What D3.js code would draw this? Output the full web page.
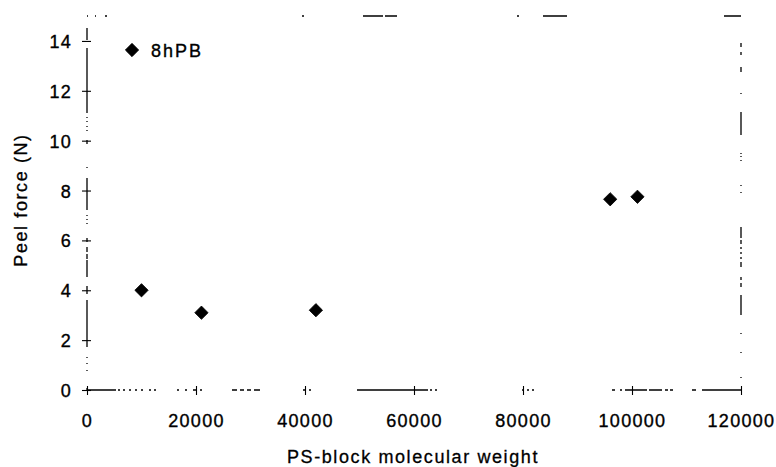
<!DOCTYPE html>
<html>
<head>
<meta charset="utf-8">
<script src="https://cdn.jsdelivr.net/npm/d3@7"></script>
<style>
  body { margin: 0; background: #fff; }
  svg { display: block; font-family: "Liberation Sans", Arial, sans-serif; }
  .tick-label { font-size: 18px; letter-spacing: 1.3px; fill: #000; stroke: #000; stroke-width: 0.35px; }
  .axis-title { font-size: 18px; letter-spacing: 1.6px; fill: #000; stroke: #000; stroke-width: 0.3px; }
</style>
</head>
<body>
<svg id="chart"></svg>
<script>
// PS-block molecular weight vs peel force (8hPB)
const molWeight = [10000, 21000, 42000, 96000, 101000];
const peelForce = [4.0, 3.1, 3.2, 7.65, 7.75];
const seriesName = "8hPB";
const xTicks = [0, 20000, 40000, 60000, 80000, 100000, 120000];
const yTicks = [0, 2, 4, 6, 8, 10, 12, 14];

const width = 776, height = 467;
const margin = { top: 16, right: 35, bottom: 77, left: 87 };
const innerW = width - margin.left - margin.right;
const innerH = height - margin.top - margin.bottom;

// broken frame look of the scanned figure (pixel runs along each side)
const frameRuns = {
  top: [[0,1],[8,9],[18,20],[215,217],[276,296],[298,310],[430,432],[456,480],[637,654]],
  right: [[27,31],[36,39],[51,56],[77,78],[96,119],[137,138],[140,141],[144,145],[169,170],[176,177],
          [211,222],[224,228],[231,233],[236,238],[241,243],[246,251],[261,264],[267,271],[279,299],
          [317,318],[336,337],[361,362]],
  left: [[12,24],[32,97],[101,102],[105,106],[110,111],[114,115],[124,128],[151,152],[162,194],
         [199,200],[203,204],[207,208],[222,226],[231,236],[238,243],[244,261],[270,278],[284,331],
         [341,342],[347,348],[354,355],[372,374]],
  bottom: [[0,29],[31,33],[36,38],[42,44],[48,50],[54,56],[62,64],[67,69],[90,92],[98,100],[106,110],
           [113,115],[145,150],[153,157],[160,164],[167,173],[216,218],[222,224],[270,341],[343,345],
           [348,350],[435,437],[440,442],[445,447],[525,528],[533,535],[538,560],[562,575],[578,581],
           [583,586],[605,609],[615,654]]
};

function runsToDash(runs) {
  const out = [0, runs[0][0]];
  runs.forEach((r, i) => {
    const next = i < runs.length - 1 ? runs[i + 1][0] : r[1] + 2000;
    out.push(r[1] - r[0], next - r[1]);
  });
  return out.join(",");
}

const svg = d3.select("#chart")
  .attr("width", width)
  .attr("height", height);

svg.append("rect").attr("width", width).attr("height", height).attr("fill", "#fff");

const g = svg.append("g")
  .attr("transform", `translate(${margin.left},${margin.top})`);

const x = d3.scaleLinear().domain([0, 120000]).range([0, innerW]);
const y = d3.scaleLinear().domain([0, 15]).range([innerH, 0]);

// frame
const sides = [
  { key: "top", x1: 0, y1: 0, x2: innerW, y2: 0 },
  { key: "right", x1: innerW, y1: 0, x2: innerW, y2: innerH },
  { key: "left", x1: 0, y1: 0, x2: 0, y2: innerH },
  { key: "bottom", x1: 0, y1: innerH, x2: innerW, y2: innerH }
];
g.selectAll(".frame")
  .data(sides)
  .join("line")
  .attr("class", "frame")
  .attr("x1", d => d.x1).attr("y1", d => d.y1)
  .attr("x2", d => d.x2).attr("y2", d => d.y2)
  .attr("stroke", "#000")
  .attr("stroke-width", 1.3)
  .attr("stroke-dasharray", d => runsToDash(frameRuns[d.key]));

// x axis
const xAxis = g.append("g")
  .attr("transform", `translate(0,${innerH})`)
  .call(d3.axisBottom(x).tickValues(xTicks).tickFormat(d3.format("d")).tickSize(5));
xAxis.select(".domain").remove();
xAxis.selectAll(".tick line").attr("y1", -4).attr("y2", 5).attr("stroke-width", 1.1);
xAxis.selectAll(".tick text")
  .attr("class", "tick-label")
  .attr("y", 37).attr("dy", 0)
  .attr("font-size", null).attr("font-family", null);

// y axis
const yAxis = g.append("g")
  .call(d3.axisLeft(y).tickValues(yTicks).tickSize(5));
yAxis.select(".domain").remove();
yAxis.selectAll(".tick line").attr("x1", -5).attr("x2", 4).attr("stroke-width", 1.1);
yAxis.selectAll(".tick text")
  .attr("class", "tick-label")
  .attr("x", -15).attr("dy", "0.36em")
  .attr("font-size", null).attr("font-family", null);
g.selectAll(".tick text").attr("fill", "#000");

// axis titles
svg.append("text")
  .attr("class", "axis-title")
  .attr("x", margin.left + innerW / 2 - 1)
  .attr("y", 463)
  .attr("text-anchor", "middle")
  .text("PS-block molecular weight");

svg.append("text")
  .attr("class", "axis-title")
  .attr("transform", `translate(27,${margin.top + innerH / 2 - 3}) rotate(-90)`)
  .attr("text-anchor", "middle")
  .text("Peel force (N)");

// points
const points = molWeight.map((m, i) => ({ m, f: peelForce[i] }));
const diamond = d3.symbol().type(d3.symbolSquare).size(88);

g.selectAll(".pt")
  .data(points)
  .join("path")
  .attr("class", "pt")
  .attr("d", diamond)
  .attr("transform", d => `translate(${x(d.m)},${y(d.f)}) rotate(45)`)
  .attr("fill", "#000")
  .attr("stroke", "#000")
  .attr("stroke-width", 0.8)
  .attr("stroke-linejoin", "round");

// legend
const legend = g.append("g").attr("transform", "translate(45,34)");
legend.append("path")
  .attr("d", diamond)
  .attr("transform", "rotate(45)")
  .attr("fill", "#000")
  .attr("stroke", "#000")
  .attr("stroke-width", 0.8)
  .attr("stroke-linejoin", "round");
legend.append("text")
  .attr("class", "tick-label")
  .attr("x", 19)
  .attr("y", 7)
  .style("letter-spacing", "2px")
  .text(seriesName);
</script>
</body>
</html>
